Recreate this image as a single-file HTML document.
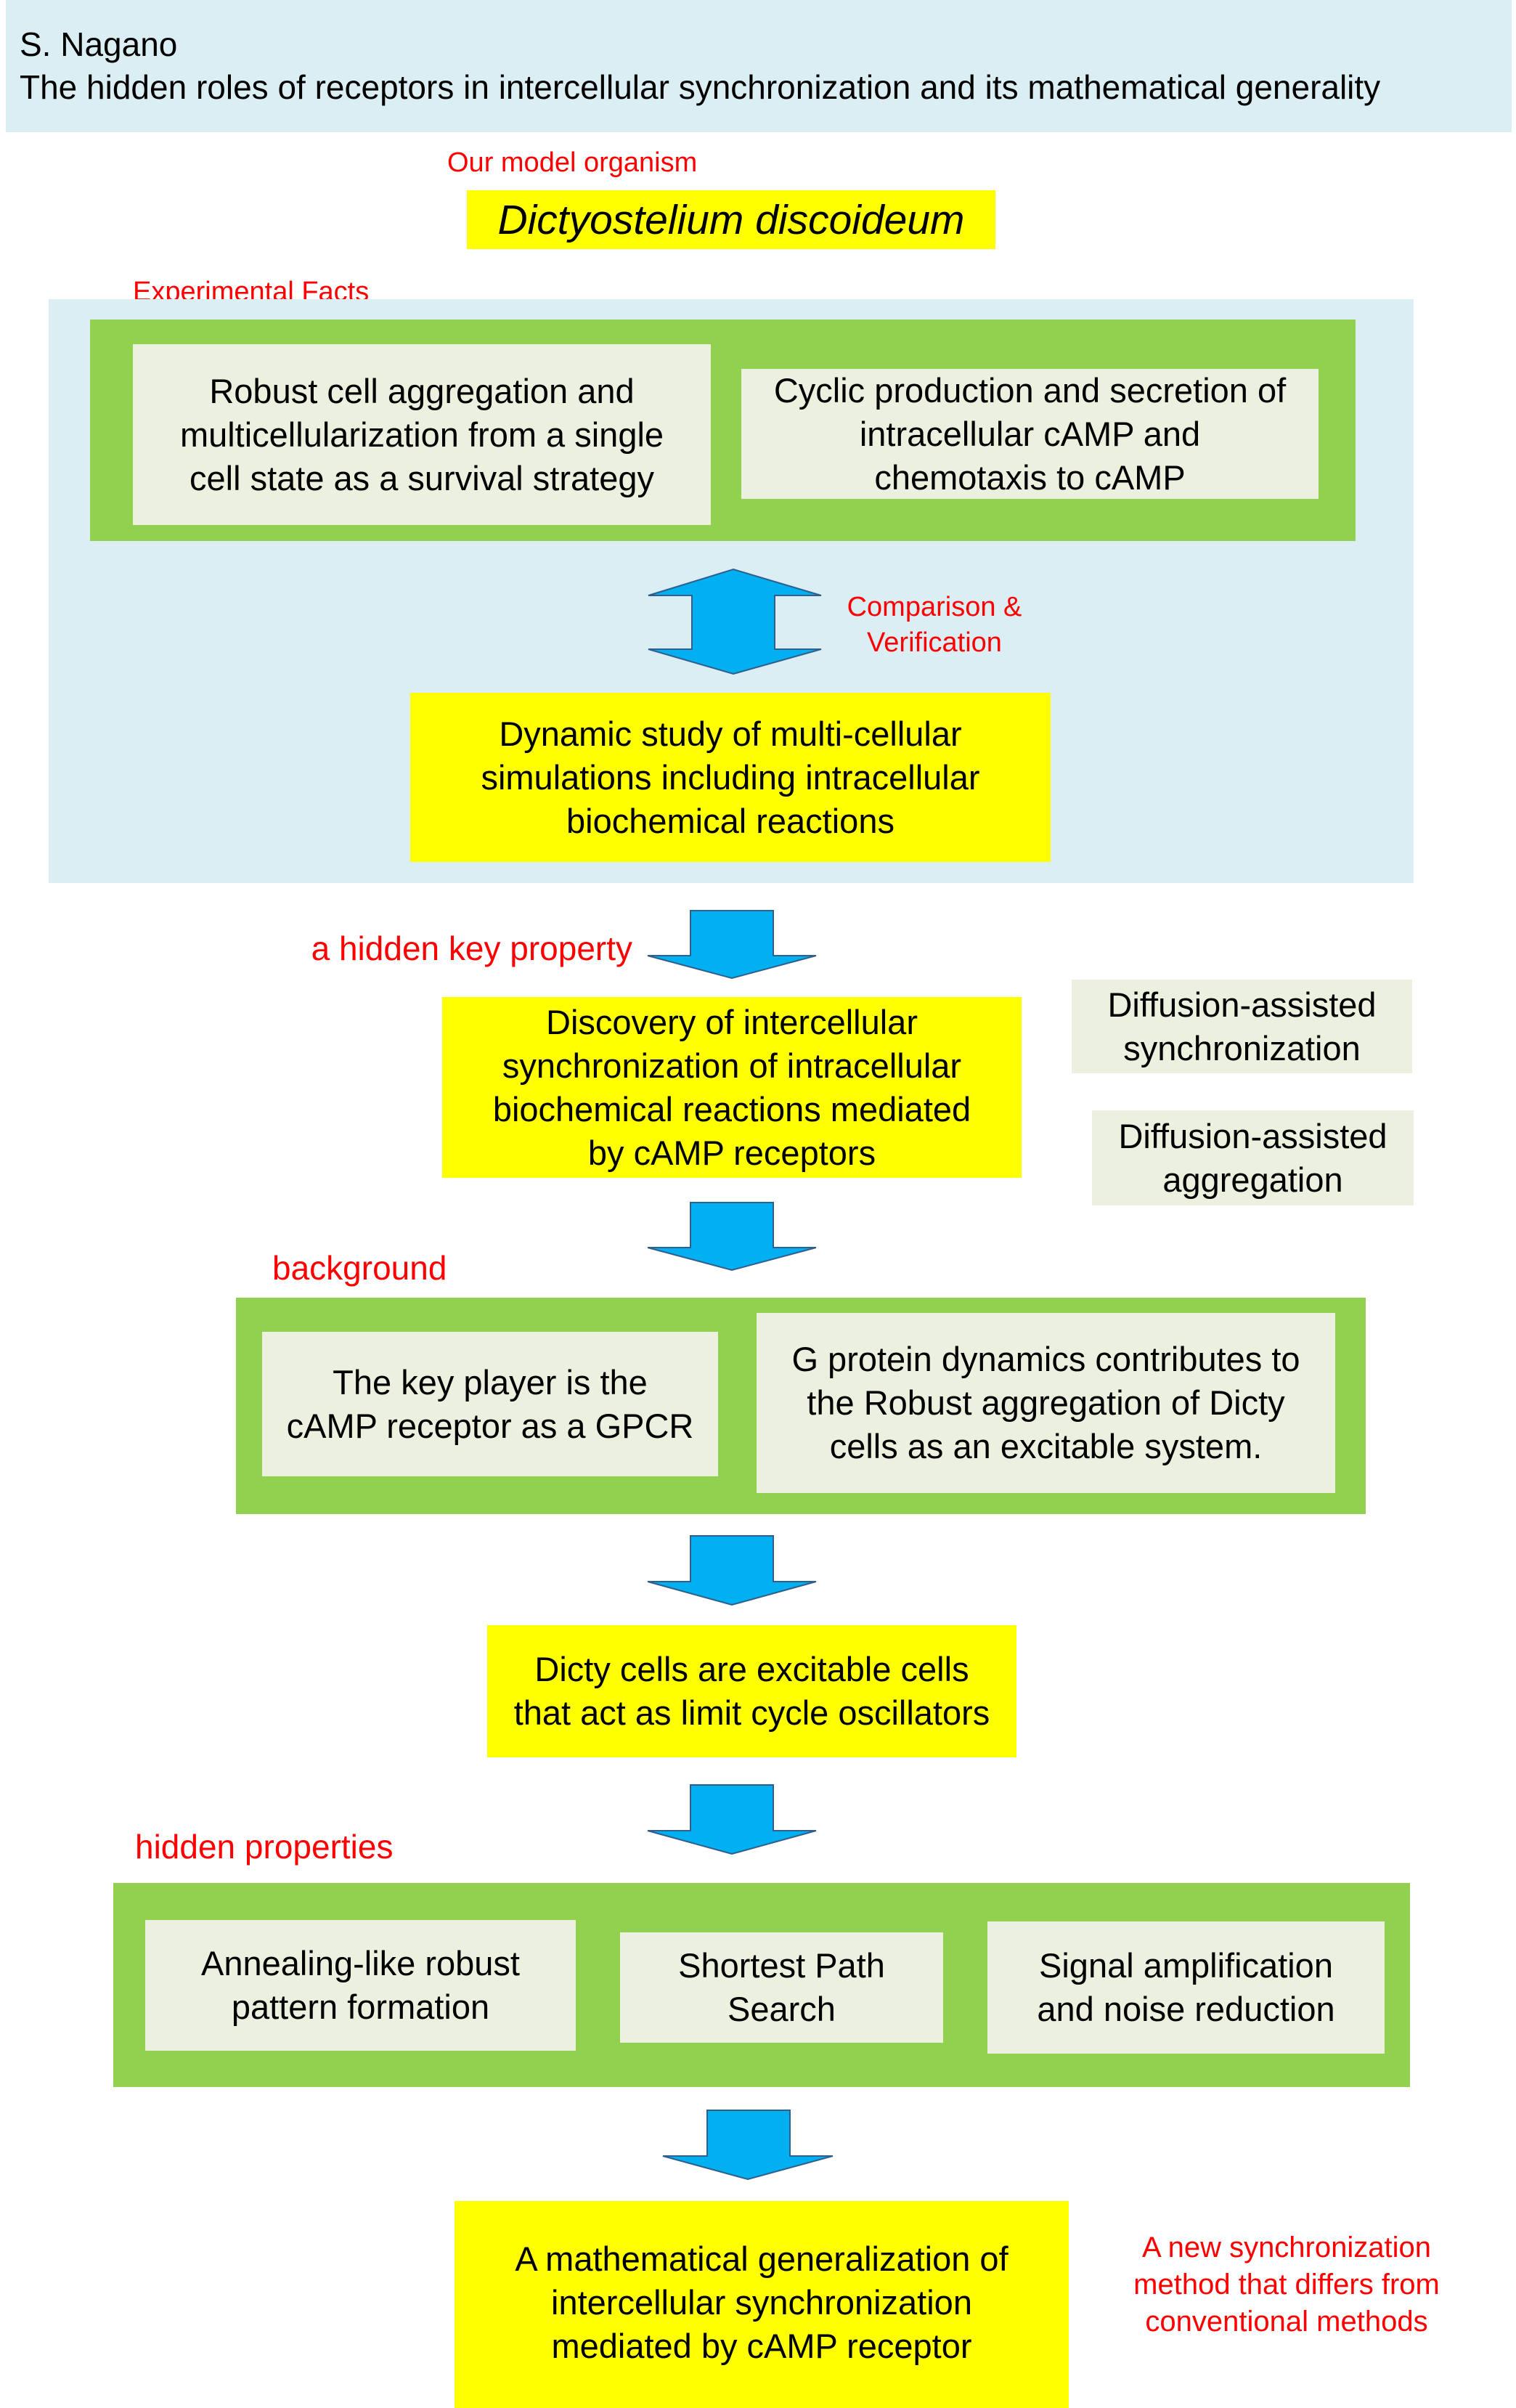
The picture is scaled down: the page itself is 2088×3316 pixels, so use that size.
<!DOCTYPE html>
<html><head><meta charset="utf-8"><style>
body{margin:0;width:2088px;height:3316px;background:#fff;position:relative;overflow:hidden;font-family:"Liberation Sans",sans-serif;}
.b{position:absolute;display:flex;align-items:center;justify-content:center;text-align:center;font-size:47px;line-height:60px;color:#000;box-sizing:border-box;}
.y{background:#ffff00}.g{background:#92d050}.i{background:#ebf1de}.lb{background:#daeef3}
.r{position:absolute;color:#ff0000;font-size:38px;white-space:nowrap;line-height:48px}
svg{position:absolute;left:0;top:0}
</style></head><body>
<div class="lb" style="position:absolute;left:8px;top:0;width:2074px;height:182px"></div>
<div style="position:absolute;left:27px;top:32px;font-size:46px;line-height:59px;white-space:nowrap">S. Nagano<br>The hidden roles of receptors in intercellular synchronization and its mathematical generality</div>
<div class="r" style="left:616px;top:200px">Our model organism</div>
<div class="b y" style="left:643px;top:262px;width:728px;height:81px;font-style:italic;font-size:57px">Dictyostelium discoideum</div>
<div class="r" style="left:183px;top:378px">Experimental Facts</div>
<div class="lb" style="position:absolute;left:67px;top:412px;width:1880px;height:804px"></div>
<div class="g" style="position:absolute;left:124px;top:440px;width:1743px;height:305px"></div>
<div class="b i" style="left:183px;top:474px;width:796px;height:249px">Robust cell aggregation and<br>multicellularization from a single<br>cell state as a survival strategy</div>
<div class="b i" style="left:1021px;top:508px;width:795px;height:179px">Cyclic production and secretion of<br>intracellular cAMP and<br>chemotaxis to cAMP</div>
<div class="r" style="left:1087px;top:812px;width:400px;text-align:center;line-height:49px">Comparison &amp;<br>Verification</div>
<div class="b y" style="left:565px;top:954px;width:882px;height:233px">Dynamic study of multi-cellular<br>simulations including intracellular<br>biochemical reactions</div>
<div class="r" style="left:300px;top:1282px;width:571px;text-align:right;font-size:46px">a hidden key property</div>
<div class="b y" style="left:609px;top:1373px;width:798px;height:249px">Discovery of intercellular<br>synchronization of intracellular<br>biochemical reactions mediated<br>by cAMP receptors</div>
<div class="b i" style="left:1476px;top:1349px;width:469px;height:129px">Diffusion-assisted<br>synchronization</div>
<div class="b i" style="left:1504px;top:1529px;width:443px;height:131px">Diffusion-assisted<br>aggregation</div>
<div class="r" style="left:375px;top:1722px;font-size:46px">background</div>
<div class="g" style="position:absolute;left:325px;top:1787px;width:1556px;height:298px"></div>
<div class="b i" style="left:361px;top:1834px;width:628px;height:199px">The key player is the<br>cAMP receptor as a GPCR</div>
<div class="b i" style="left:1042px;top:1808px;width:797px;height:248px">G protein dynamics contributes to<br>the Robust aggregation of Dicty<br>cells as an excitable system.</div>
<div class="b y" style="left:671px;top:2238px;width:729px;height:182px">Dicty cells are excitable cells<br>that act as limit cycle oscillators</div>
<div class="r" style="left:186px;top:2519px;font-size:46px">hidden properties</div>
<div class="g" style="position:absolute;left:156px;top:2593px;width:1786px;height:281px"></div>
<div class="b i" style="left:200px;top:2644px;width:593px;height:180px">Annealing-like robust<br>pattern formation</div>
<div class="b i" style="left:854px;top:2661px;width:445px;height:152px">Shortest Path<br>Search</div>
<div class="b i" style="left:1360px;top:2646px;width:547px;height:182px">Signal amplification<br>and noise reduction</div>
<div class="b y" style="left:626px;top:3031px;width:846px;height:285px;align-items:flex-start;padding-top:50px">A mathematical generalization of<br>intercellular synchronization<br>mediated by cAMP receptor</div>
<div class="r" style="left:1522px;top:3070px;width:500px;text-align:center;font-size:40px;line-height:51px">A new synchronization<br>method that differs from<br>conventional methods</div>
<svg width="2088" height="3316" viewBox="0 0 2088 3316">
<g fill="#00b0f0" stroke="#2f5f8f" stroke-width="2">
<polygon points="1010,784 1131,820 1067,820 1067,894 1131,894 1010,928 893,894 953,894 953,820 893,820"/>
<polygon points="951,1254 1065,1254 1065,1316 1124,1316 1008,1347 892,1316 951,1316"/>
<polygon points="951,1656 1065,1656 1065,1718 1124,1718 1008,1749 892,1718 951,1718"/>
<polygon points="951,2115 1065,2115 1065,2178 1124,2178 1008,2210 892,2178 951,2178"/>
<polygon points="951,2458 1065,2458 1065,2521 1124,2521 1008,2553 892,2521 951,2521"/>
<polygon points="974,2906 1088,2906 1088,2969 1147,2969 1030,3001 913,2969 974,2969"/>
</g></svg>
</body></html>
